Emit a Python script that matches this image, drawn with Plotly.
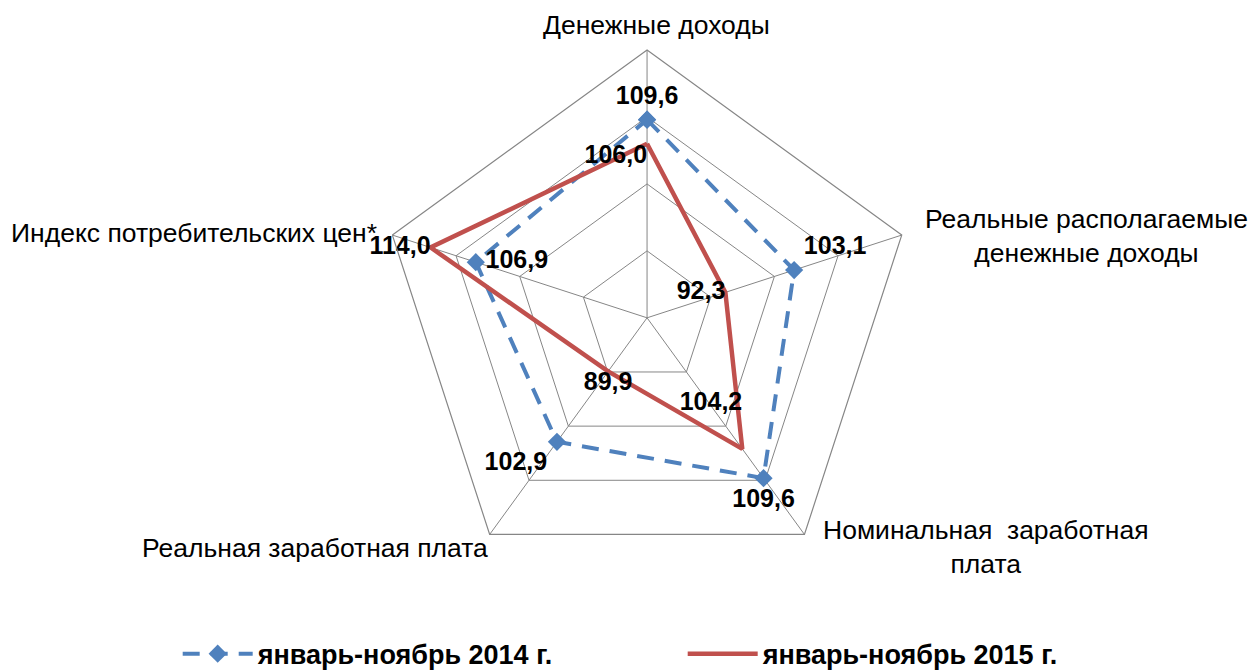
import plotly.graph_objects as go

categories = [
    "Денежные доходы",
    "Реальные располагаемые<br>денежные доходы",
    "Номинальная  заработная<br>плата",
    "Реальная заработная плата",
    "Индекс потребительских цен*",
]
vals_2014 = [109.6, 103.1, 109.6, 102.9, 106.9]
vals_2015 = [106.0, 92.3, 104.2, 89.9, 114.0]
name_2014 = "январь-ноябрь 2014 г."
name_2015 = "январь-ноябрь 2015 г."

# close the polygons
theta = categories + categories[:1]
r14 = vals_2014 + vals_2014[:1]
r15 = vals_2015 + vals_2015[:1]

pos_2014 = ["top center", "top right", "bottom center", "bottom left", "middle right", "top center"]
pos_2015 = ["bottom left", "middle left", "top left", "bottom center", "middle left", "bottom center"]
tpl_2015 = ["%{r:.1f}", "%{r:.1f}", "%{r:.1f}<br> ", "%{r:.1f}", "%{r:.1f}", ""]

lbl_font = dict(family="Liberation Sans, Arial", size=25, color="black", weight="bold")

fig = go.Figure()
fig.add_trace(go.Scatterpolar(
    r=r14, theta=theta, name=name_2014,
    mode="lines+markers+text",
    line=dict(color="#4F81BD", width=4, dash="17px,11px"),
    marker=dict(symbol="diamond", size=14, color="#4F81BD"),
    texttemplate=["%{r:.1f}"] * 5 + [""],
    textposition=pos_2014,
    textfont=lbl_font,
))
fig.add_trace(go.Scatterpolar(
    r=r15, theta=theta, name=name_2015,
    mode="lines+text",
    line=dict(color="#C0504D", width=4.5),
    texttemplate=tpl_2015,
    textposition=pos_2015,
    textfont=lbl_font,
))

# category labels placed outside the pentagon, centred like the original
label_xy = [(648, 17), (1078, 231), (978, 546), (307, 547), (186, 228)]
for txt, (px_, py_) in zip(categories, label_xy):
    fig.add_annotation(
        text=txt, x=px_ / 1257, y=1 - py_ / 671, xref="paper", yref="paper",
        xanchor="center", yanchor="middle", align="center", showarrow=False,
        font=dict(size=26.5, color="black"),
    )

fig.update_layout(
    width=1257, height=671,
    margin=dict(l=0, r=0, t=0, b=0),
    paper_bgcolor="white",
    separators=", ",
    font=dict(family="Liberation Sans, Arial", size=20, color="black"),
    polar=dict(
        domain=dict(x=[0.2928, 0.7240], y=[0.1275, 0.9365]),
        bgcolor="white",
        gridshape="linear",
        radialaxis=dict(range=[80, 120], dtick=10, showticklabels=False,
                        ticks="", showline=False, gridcolor="#868686", gridwidth=1),
        angularaxis=dict(rotation=90, direction="clockwise", ticks="",
                         showticklabels=False,
                         linecolor="#868686", linewidth=1.2, gridcolor="#868686"),
    ),
    legend=dict(orientation="h", x=0.135, xanchor="left", y=0.024, yanchor="middle",
                font=dict(size=27, weight="bold"), entrywidth=420, itemwidth=70),
    showlegend=True,
)

fig.write_html("out.html")
